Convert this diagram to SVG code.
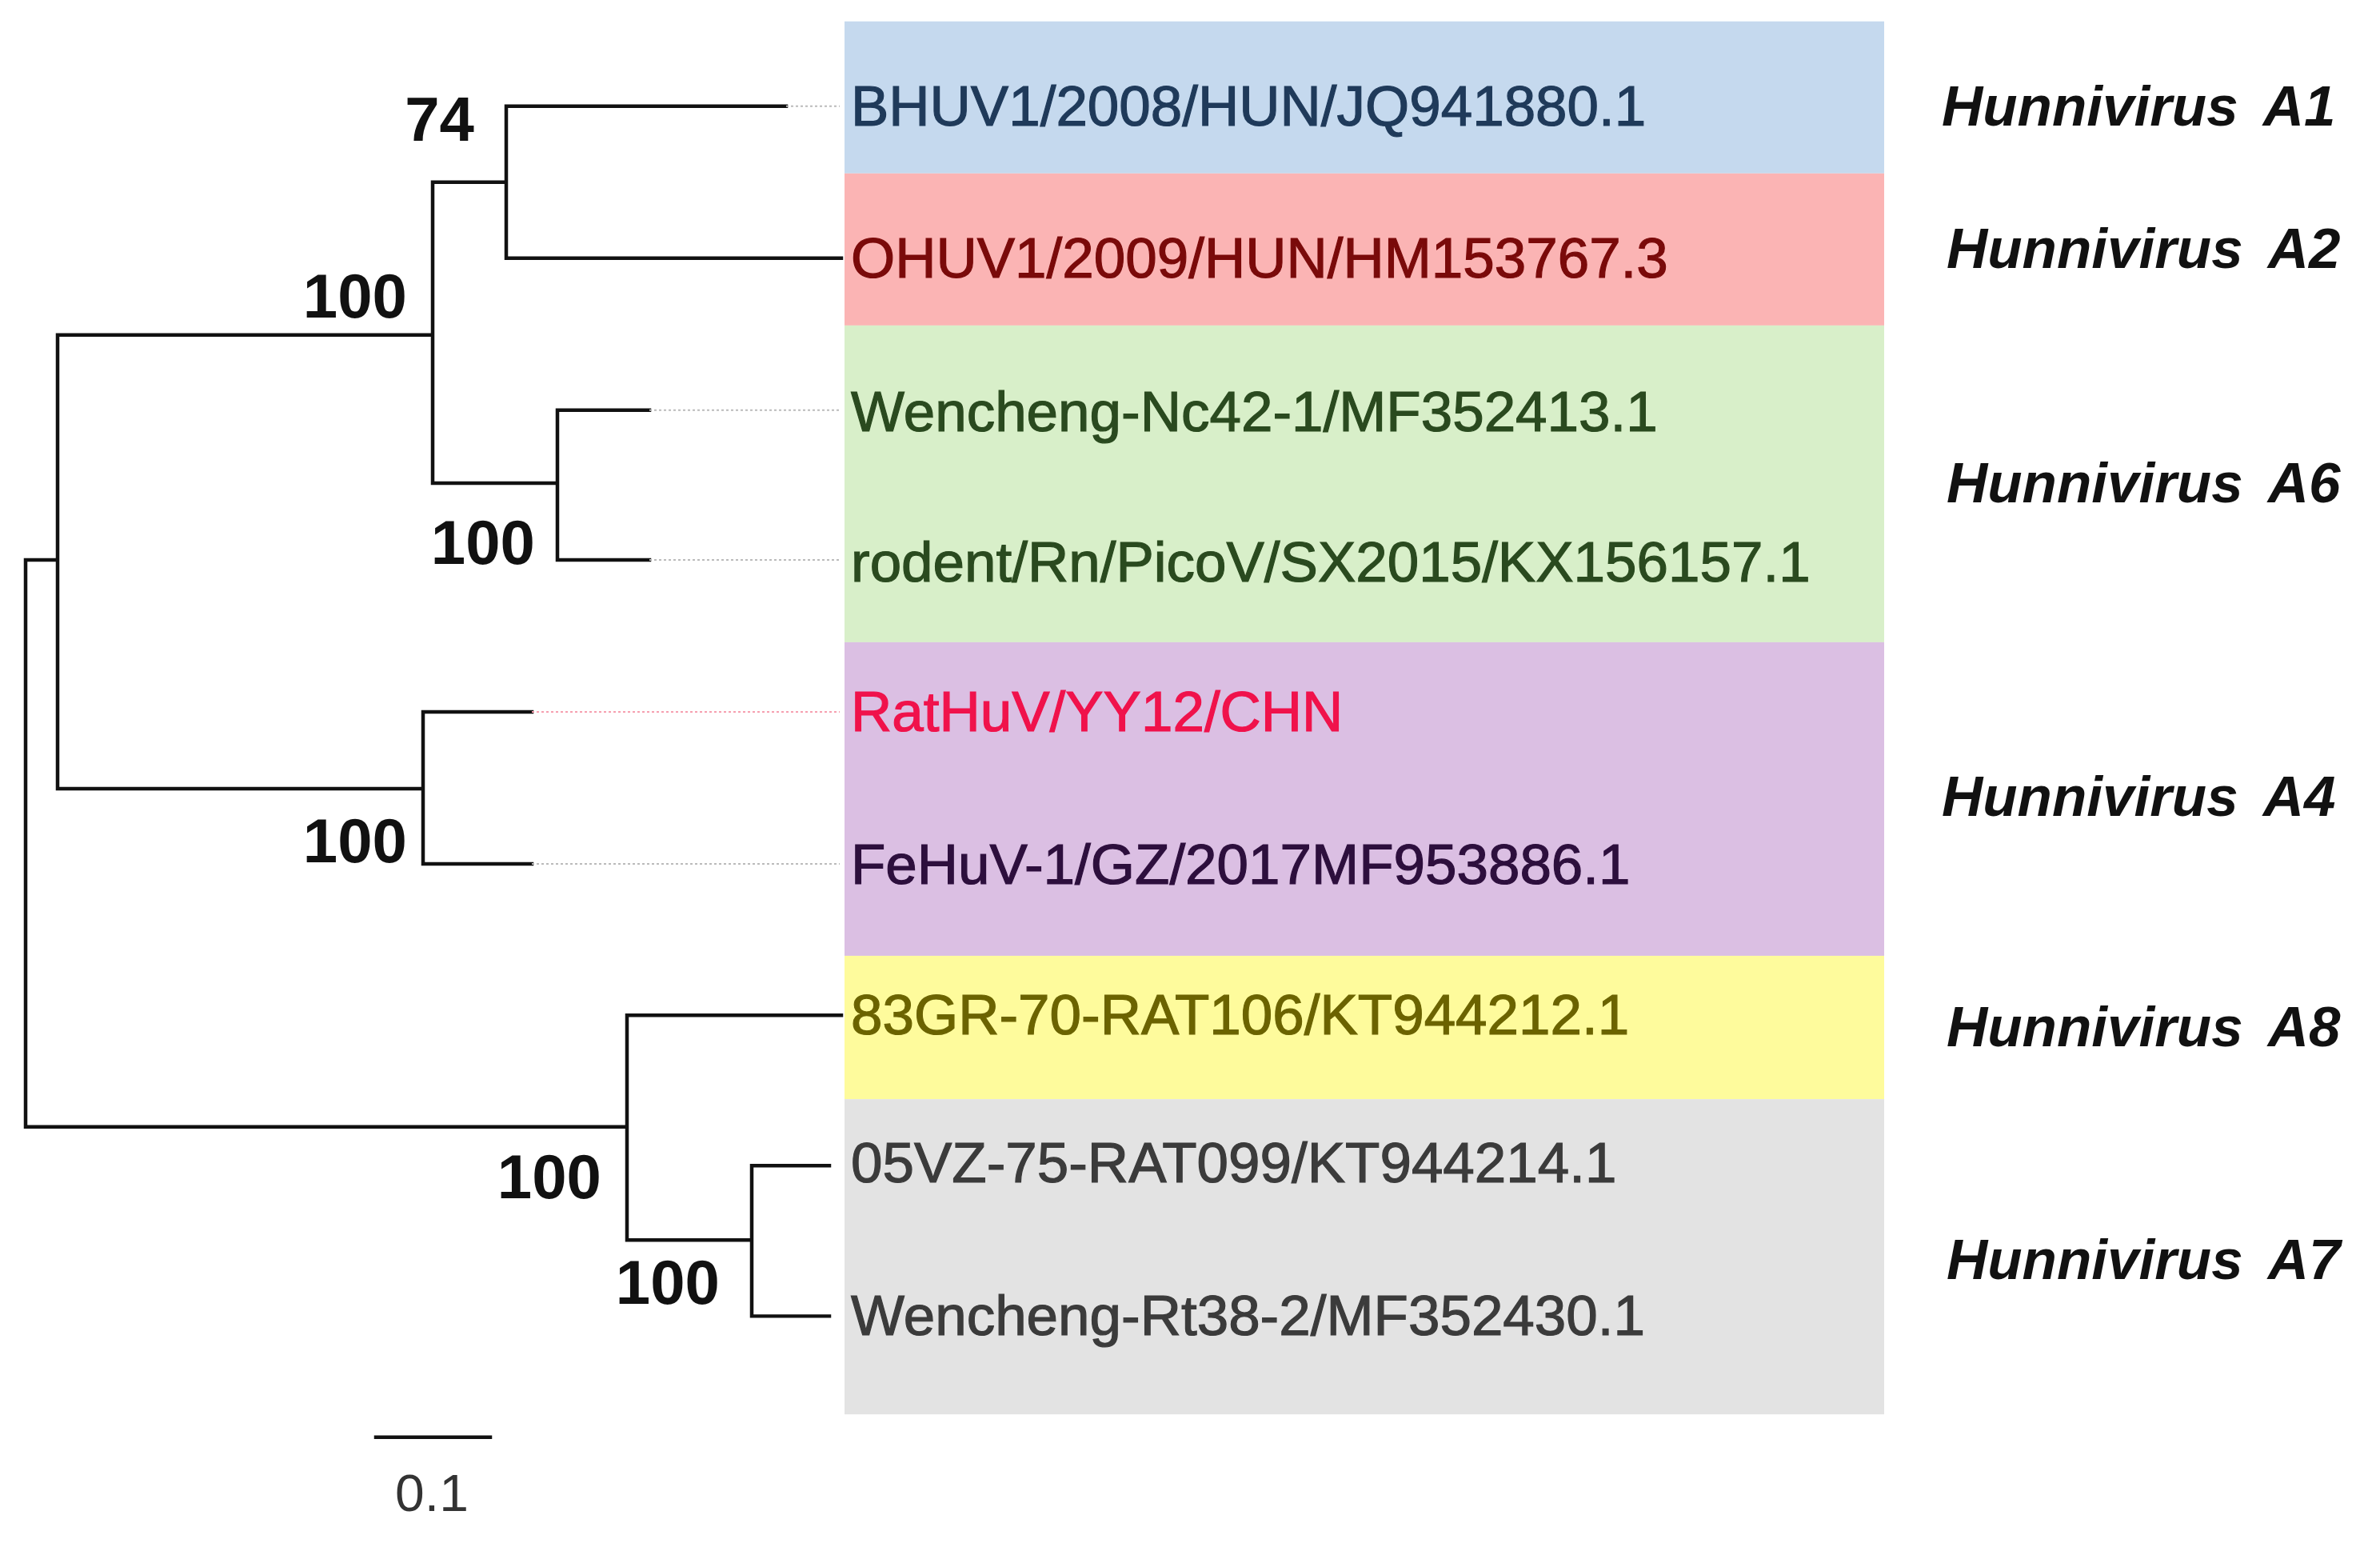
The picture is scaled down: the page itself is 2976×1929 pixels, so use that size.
<svg xmlns="http://www.w3.org/2000/svg" width="2976" height="1929" viewBox="0 0 2976 1929">
<style>
.br{stroke:#111;stroke-width:4.5;fill:none;stroke-linecap:square}
.dt{stroke:#bbb;stroke-width:2;stroke-dasharray:3 3;fill:none}
.lb{font-family:"Liberation Sans",Arial,sans-serif;font-size:71px;stroke-width:1.2px}
.bs{font-family:"Liberation Sans",Arial,sans-serif;font-size:78px;font-weight:bold;fill:#111;text-anchor:end}
.sp{font-family:"Liberation Sans",Arial,sans-serif;font-size:71px;font-weight:bold;font-style:italic;fill:#111;word-spacing:14px}
</style>
<rect width="2976" height="1929" fill="#fff"/>
<g transform="scale(1,0.99)">
<g id="bands">
<rect x="1056" y="27" width="1300" height="192" fill="#c5d9ee"/>
<rect x="1056" y="219" width="1300" height="192" fill="#fbb4b4"/>
<rect x="1056" y="411" width="1300" height="400" fill="#d8efc9"/>
<rect x="1056" y="811" width="1300" height="396" fill="#dbbfe3"/>
<rect x="1056" y="1207" width="1300" height="181" fill="#fefb9c"/>
<rect x="1056" y="1388" width="1300" height="398" fill="#e3e3e3"/>
</g>
<g id="connectors">
<path class="br" d="M32 707V1423M32 1423H784M72 423V996M32 707H72M72 423H541M541 230V610M541 230H633M633 134V326M633 134H983M633 326H1052M541 610H697M697 518V707M697 518H812M697 707H812M72 996H529M529 899V1091M529 899H665M529 1091H665M784 1282V1566M784 1282H1052M784 1566H940M940 1472V1662M940 1472H1037M940 1662H1037"/>
<path class="dt" d="M983 134H1050M812 518H1050M812 707H1050M665 1091H1050"/>
<path d="M665 899H1050" stroke="#f6a0b0" stroke-width="2" stroke-dasharray="3 3"/>
<path class="br" d="M470 1815H613"/>
</g>
<g id="leaves">
<text class="lb" x="1064" y="159" fill="#1f3a5a" stroke="#1f3a5a">BHUV1/2008/HUN/JQ941880.1</text>
<text class="lb" x="1064" y="351" fill="#7a0a0a" stroke="#7a0a0a">OHUV1/2009/HUN/HM153767.3</text>
<text class="lb" x="1064" y="544" fill="#2a4a1f" stroke="#2a4a1f">Wencheng-Nc42-1/MF352413.1</text>
<text class="lb" x="1064" y="734" fill="#2a4a1f" stroke="#2a4a1f">rodent/Rn/PicoV/SX2015/KX156157.1</text>
<text class="lb" x="1064" y="923" fill="#f0124b" stroke="#f0124b">RatHuV/YY12/CHN</text>
<text class="lb" x="1064" y="1116" fill="#2d0f3d" stroke="#2d0f3d">FeHuV-1/GZ/2017MF953886.1</text>
<text class="lb" x="1064" y="1306" fill="#6b6300" stroke="#6b6300">83GR-70-RAT106/KT944212.1</text>
<text class="lb" x="1064" y="1493" fill="#3b3b3b" stroke="#3b3b3b">05VZ-75-RAT099/KT944214.1</text>
<text class="lb" x="1064" y="1686" fill="#3b3b3b" stroke="#3b3b3b">Wencheng-Rt38-2/MF352430.1</text>
</g>
<g id="bootstrap">
<text class="bs" x="593" y="178">74</text>
<text class="bs" x="509" y="401">100</text>
<text class="bs" x="669" y="712">100</text>
<text class="bs" x="509" y="1089">100</text>
<text class="bs" x="752" y="1513">100</text>
<text class="bs" x="900" y="1646">100</text>
</g>
<g id="species">
<text class="sp" x="2428" y="159">Hunnivirus A1</text>
<text class="sp" x="2434" y="338">Hunnivirus A2</text>
<text class="sp" x="2434" y="634">Hunnivirus A6</text>
<text class="sp" x="2428" y="1030">Hunnivirus A4</text>
<text class="sp" x="2434" y="1321">Hunnivirus A8</text>
<text class="sp" x="2434" y="1615">Hunnivirus A7</text>
</g>
<text x="540" y="1908" text-anchor="middle" font-family="'Liberation Sans',Arial,sans-serif" font-size="66" fill="#333">0.1</text>
</g>
</svg>
